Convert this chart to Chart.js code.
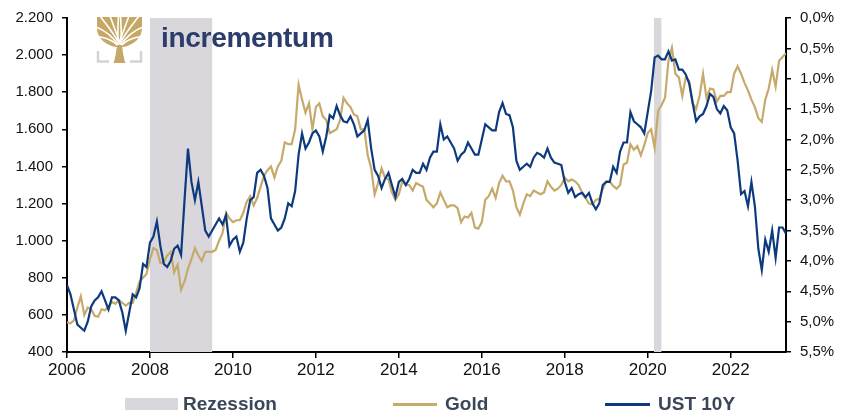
<!DOCTYPE html>
<html>
<head>
<meta charset="utf-8">
<script src="https://cdn.jsdelivr.net/npm/chart.js@4.4.1/dist/chart.umd.min.js"></script>
<style>
  html, body { margin: 0; padding: 0; background: #fff; }
  #wrap { position: relative; width: 845px; height: 412px; overflow: hidden; }
  #c { position: absolute; left: 0; top: 0; }
  .logo-text { position: absolute; left: 161px; top: 22px; font-family: "Liberation Sans", Arial, sans-serif; font-weight: bold; font-size: 28px; color: #2c3d6b; letter-spacing: -0.3px; }
  .lg { position: absolute; font-family: "Liberation Sans Narrow", "Liberation Sans", Arial, sans-serif; font-weight: bold; font-size: 19px; color: #3b4658; top: 393px; line-height: 22px; }
  .sw { position: absolute; }
</style>
</head>
<body>
<div id="wrap">
  <canvas id="c" width="845" height="412"></canvas>
  <svg style="position:absolute;left:96px;top:16px" width="48" height="48" viewBox="0 0 48 48">
    <g stroke="#d3d3d3" stroke-width="2.5" fill="none">
      <path d="M2 35 V45.5 H13"/>
      <path d="M45 35 V45.5 H34"/>
    </g>
    <path d="M1 1 H46 V12 C46 24 34 30 27 31 H20 C13 30 1 24 1 12 Z" fill="#c6a866"/>
    <g stroke="#ffffff" stroke-width="1.6" fill="none">
      <path d="M23.5 32 C18 24 10 22 0 20"/>
      <path d="M23.5 32 C29 24 37 22 47 20"/>
      <path d="M23.5 30 C16 20 8 14 0 11"/>
      <path d="M23.5 30 C31 20 39 14 47 11"/>
      <path d="M23.5 28 C17 16 10 8 4 0"/>
      <path d="M23.5 28 C30 16 37 8 43 0"/>
      <path d="M23.5 26 C20 16 17 8 14 0"/>
      <path d="M23.5 26 C27 16 30 8 33 0"/>
      <path d="M22 24 C21.5 14 22 8 22.5 0"/>
      <path d="M25 24 C25.5 14 25 8 24.5 0"/>
    </g>
    <path d="M17.5 47 C20 40 20.5 33 21 29 H26 C26.5 33 27 40 29.5 47 Z" fill="#c6a866"/>
  </svg>
  <div class="logo-text">incrementum</div>
  <div class="sw" style="left:125px;top:398px;width:53px;height:12px;background:#d9d7dc"></div>
  <div class="lg" style="left:183px">Rezession</div>
  <div class="sw" style="left:393px;top:403px;width:44px;height:2.5px;background:#c6aa6c"></div>
  <div class="lg" style="left:445px">Gold</div>
  <div class="sw" style="left:605px;top:403px;width:45px;height:2.5px;background:#0d3a7e"></div>
  <div class="lg" style="left:658px">UST 10Y</div>
</div>
<script>
// Monthly data, January 2006 .. May 2023
const startYear = 2006;
const goldUSD = [
  560, 555, 570, 640, 700, 600, 640, 630, 595, 590, 630, 625,
  645, 670, 660, 680, 665, 650, 665, 665, 720, 780, 800, 820,
  900, 960, 950, 880, 885, 920, 940, 830, 870, 735, 780, 850,
  900, 960, 920, 890, 940, 940, 940, 950, 1000, 1040, 1150, 1120,
  1100, 1110, 1110, 1150, 1210, 1240, 1190, 1230, 1290, 1350, 1380, 1400,
  1340, 1400, 1430, 1530, 1520, 1520, 1600, 1840, 1760, 1690, 1740, 1600,
  1720, 1740, 1670, 1650, 1580, 1590, 1600, 1650, 1770, 1740, 1720, 1680,
  1670, 1600, 1600, 1460, 1390, 1250, 1310, 1390, 1340, 1330, 1260, 1220,
  1250, 1320, 1300, 1300, 1270, 1310, 1300, 1290, 1220, 1200, 1180, 1200,
  1260, 1220, 1180, 1190, 1190, 1175, 1100, 1130, 1125, 1150, 1070, 1065,
  1100, 1220, 1240, 1280, 1230, 1310, 1350, 1320, 1320, 1270, 1180, 1140,
  1200, 1250, 1240, 1270, 1260, 1250, 1260, 1320, 1290, 1270, 1280, 1300,
  1340, 1320, 1330, 1320, 1300, 1260, 1230, 1200, 1195, 1220, 1225, 1280,
  1320, 1320, 1295, 1280, 1300, 1410, 1420, 1520, 1490, 1510, 1460, 1515,
  1580, 1600, 1500, 1700, 1730, 1770, 1970, 2040, 1900, 1880, 1780, 1880,
  1860, 1740, 1710, 1780, 1900, 1770, 1820, 1815, 1750, 1780, 1780, 1800,
  1800, 1900, 1940, 1900, 1850, 1810, 1760, 1720, 1660, 1640, 1760, 1820,
  1920, 1830, 1970, 1990, 2010
];
const ust10y = [
  4.40, 4.55, 4.80, 5.05, 5.10, 5.15, 5.00, 4.75, 4.65, 4.60, 4.50, 4.65,
  4.80, 4.60, 4.60, 4.65, 4.85, 5.15, 4.85, 4.55, 4.60, 4.45, 4.05, 4.10,
  3.70, 3.60, 3.35, 3.75, 4.05, 4.10, 4.00, 3.80, 3.75, 3.90, 3.00, 2.15,
  2.70, 3.00, 2.70, 3.10, 3.50, 3.60, 3.50, 3.40, 3.30, 3.40, 3.25, 3.75,
  3.65, 3.60, 3.85, 3.70, 3.30, 3.00, 2.95, 2.55, 2.50, 2.60, 2.80, 3.30,
  3.40, 3.50, 3.45, 3.30, 3.05, 3.10, 2.85, 2.25, 1.90, 2.15, 2.05, 1.90,
  1.85, 1.95, 2.20, 1.95, 1.60, 1.65, 1.45, 1.60, 1.70, 1.72, 1.62, 1.75,
  1.95, 1.90, 1.85, 1.68, 2.15, 2.50, 2.60, 2.80, 2.65, 2.55, 2.75, 2.95,
  2.70, 2.65, 2.75, 2.65, 2.50, 2.55, 2.55, 2.40, 2.50, 2.30, 2.20, 2.20,
  1.75, 2.00, 1.95, 2.05, 2.15, 2.35, 2.25, 2.20, 2.05, 2.15, 2.25, 2.25,
  2.00, 1.75, 1.80, 1.85, 1.85, 1.55, 1.40, 1.58, 1.60, 1.80, 2.35, 2.50,
  2.45, 2.40, 2.45, 2.30, 2.22, 2.25, 2.30, 2.15, 2.30, 2.38, 2.40, 2.42,
  2.70, 2.88, 2.80, 2.95, 2.90, 2.88, 2.95, 2.88, 3.05, 3.15, 3.05, 2.75,
  2.70, 2.70, 2.45, 2.55, 2.20, 2.05, 2.05, 1.55, 1.70, 1.75, 1.80, 1.90,
  1.55, 1.20, 0.65, 0.62, 0.68, 0.68, 0.55, 0.70, 0.68, 0.85, 0.85, 0.93,
  1.08, 1.40, 1.70, 1.62, 1.58, 1.45, 1.25, 1.30, 1.50, 1.57, 1.45, 1.52,
  1.80, 1.90, 2.35, 2.90, 2.85, 3.10, 2.70, 3.10, 3.80, 4.15, 3.65, 3.85,
  3.50, 3.95, 3.45, 3.45, 3.55
];
const recessionStart = [2008.0, 2020.15];
const recessionEnd = [2009.5, 2020.33];
const xTicks = [2006, 2008, 2010, 2012, 2014, 2016, 2018, 2020, 2022];
const goldTicks = [400, 600, 800, 1000, 1200, 1400, 1600, 1800, 2000, 2200];
const ustTicks = [0, 0.5, 1, 1.5, 2, 2.5, 3, 3.5, 4, 4.5, 5, 5.5];

const goldPts = goldUSD.map((v, i) => ({ x: startYear + i / 12, y: v }));
const ustPts = ust10y.map((v, i) => ({ x: startYear + i / 12, y: v }));
const xEnd = startYear + (goldUSD.length - 1) / 12;

const recessionPlugin = {
  id: 'recession',
  beforeDatasetsDraw(chart) {
    const { ctx, chartArea, scales } = chart;
    ctx.save();
    ctx.fillStyle = '#d9d7dc';
    for (let i = 0; i < recessionStart.length; i++) {
      const x1 = scales.x.getPixelForValue(recessionStart[i]);
      const x2 = scales.x.getPixelForValue(recessionEnd[i]);
      ctx.fillRect(x1, chartArea.top, x2 - x1, chartArea.bottom - chartArea.top);
    }
    ctx.restore();
  }
};

function fmtThousands(v) {
  const s = String(Math.round(v));
  return s.length > 3 ? s.slice(0, s.length - 3) + '.' + s.slice(-3) : s;
}

const tickFont = { family: '"Liberation Sans", Arial, sans-serif', size: 15 };

new Chart(document.getElementById('c'), {
  type: 'line',
  data: {
    datasets: [
      { label: 'Gold', data: goldPts, yAxisID: 'y', borderColor: '#c6aa6c', borderWidth: 2.2, pointRadius: 0, tension: 0, order: 2 },
      { label: 'UST 10Y', data: ustPts, yAxisID: 'y2', borderColor: '#0d3a7e', borderWidth: 2.2, pointRadius: 0, tension: 0, order: 1 }
    ]
  },
  options: {
    responsive: false,
    animation: false,
    events: [],
    layout: { padding: { top: 18, left: 0, right: 0, bottom: 0 } },
    plugins: { legend: { display: false }, tooltip: { enabled: false } },
    scales: {
      x: {
        type: 'linear', min: startYear, max: xEnd,
        afterBuildTicks: (s) => { s.ticks = xTicks.map(v => ({ value: v })); },
        afterFit: (s) => { s.height = 60; },
        grid: { display: true, drawOnChartArea: false, drawTicks: true, tickLength: 6, color: '#000', lineWidth: 1.5 },
        border: { display: true, color: '#000', width: 2 },
        ticks: { callback: (v) => String(v), color: '#111', padding: 2, maxRotation: 0,
                 font: { family: '"Liberation Sans Narrow", "Liberation Sans", Arial, sans-serif', size: 17 } }
      },
      y: {
        position: 'left', min: 400, max: 2200,
        afterBuildTicks: (s) => { s.ticks = goldTicks.map(v => ({ value: v })); },
        afterFit: (s) => { s.width = 67; },
        grid: { display: true, drawOnChartArea: false, drawTicks: true, tickLength: 5, color: '#000', lineWidth: 1.5 },
        border: { display: true, color: '#000', width: 2 },
        ticks: { callback: (v) => fmtThousands(v), color: '#111', padding: 9, font: tickFont }
      },
      y2: {
        position: 'right', min: 0, max: 5.5, reverse: true,
        afterBuildTicks: (s) => { s.ticks = ustTicks.map(v => ({ value: v })); },
        afterFit: (s) => { s.width = 59; },
        grid: { display: true, drawOnChartArea: false, drawTicks: true, tickLength: 5, color: '#000', lineWidth: 1.5 },
        border: { display: true, color: '#000', width: 2 },
        ticks: { callback: (v) => v.toFixed(1).replace('.', ',') + '%', color: '#111', padding: 9, font: tickFont }
      }
    }
  },
  plugins: [recessionPlugin]
});
</script>
</body>
</html>
